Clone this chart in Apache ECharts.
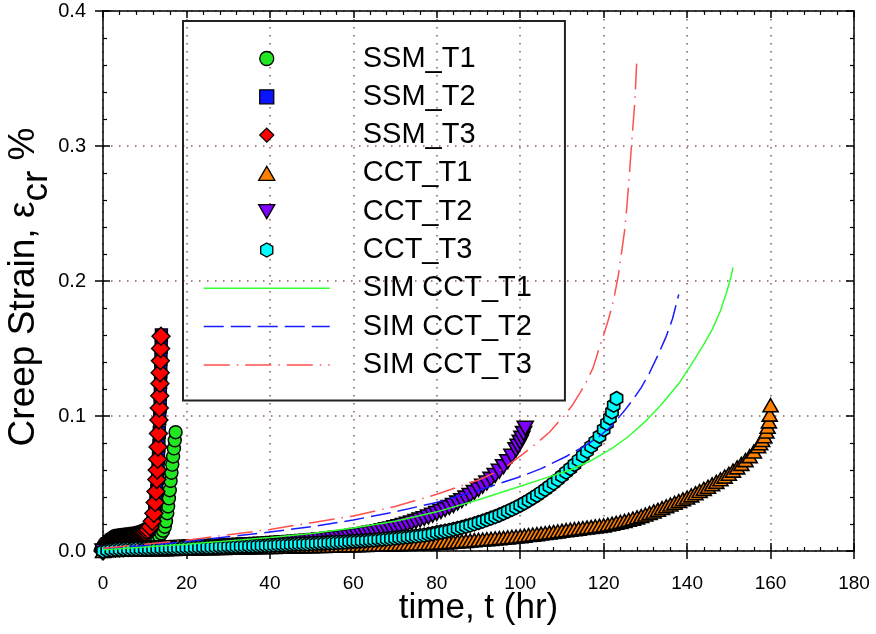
<!DOCTYPE html>
<html>
<head>
<meta charset="utf-8">
<script src="https://cdn.jsdelivr.net/npm/echarts@6/dist/echarts.min.js"></script>
<style>
html,body{margin:0;padding:0;background:#fff;}
#chart{width:876px;height:634px;}
</style>
</head>
<body>
<div id="chart"></div>
<script>
// ---------------- data (time in hr, creep strain in %) ----------------
const xTicks = [0, 20, 40, 60, 80, 100, 120, 140, 160, 180];
const yTicks = [0.0, 0.1, 0.2, 0.3, 0.4];

const ssmT1_t = [0, 0.25, 0.5, 1, 1.5, 2, 2.5, 3, 3.5, 4, 4.5, 5, 5.5, 6, 6.5, 7, 7.5, 8, 8.5, 9, 9.5, 10, 10.5, 11, 11.5, 12, 12.5, 13, 13.5, 14, 14.4, 14.8, 15.1, 15.4, 15.6, 15.8, 16.0, 16.2, 16.4, 16.6, 16.8, 17.0, 17.2, 17.4];
const ssmT1_s = [0.000, 0.0015, 0.0025, 0.003, 0.0035, 0.0035, 0.0038, 0.004, 0.004, 0.004, 0.0041, 0.0042, 0.0043, 0.0045, 0.0046, 0.0047, 0.0048, 0.005, 0.0051, 0.0052, 0.0053, 0.0055, 0.006, 0.0065, 0.007, 0.0075, 0.0085, 0.0095, 0.011, 0.013, 0.015, 0.018, 0.022, 0.028, 0.033, 0.039, 0.045, 0.052, 0.058, 0.064, 0.070, 0.076, 0.082, 0.088];

const ssmT2_t = [0, 0.25, 0.5, 0.75, 1, 1.5, 2, 2.5, 3, 3.5, 4, 4.5, 5, 5.5, 6, 6.5, 7, 7.5, 8, 8.5, 9, 9.5, 10, 10.5, 11, 11.5, 12, 12.4, 12.7, 12.9, 13.1, 13.2, 13.3, 13.4, 13.5, 13.6, 13.7, 13.75, 13.8, 13.85, 13.9, 13.95, 14.0];
const ssmT2_s = [0.000, 0.002, 0.0035, 0.0045, 0.0055, 0.007, 0.008, 0.0085, 0.009, 0.0093, 0.0095, 0.0097, 0.0099, 0.0101, 0.0103, 0.0105, 0.0107, 0.011, 0.0114, 0.0118, 0.0123, 0.013, 0.0137, 0.0147, 0.016, 0.019, 0.024, 0.030, 0.037, 0.045, 0.054, 0.061, 0.069, 0.078, 0.088, 0.098, 0.107, 0.116, 0.125, 0.133, 0.142, 0.151, 0.160];

const ssmT3_t = [0, 0.1, 0.2, 0.3, 0.4, 0.5, 0.6, 0.7, 0.8, 0.9, 1, 1.25, 1.5, 1.75, 2, 2.25, 2.5, 2.75, 3, 3.25, 3.5, 3.75, 4, 4.25, 4.5, 4.75, 5, 5.25, 5.5, 5.75, 6, 6.25, 6.5, 6.75, 7, 7.25, 7.5, 7.75, 8, 8.25, 8.5, 8.75, 9, 9.25, 9.5, 9.75, 10,
  10.4, 10.8, 11.3, 11.8, 12.2, 12.5, 12.7, 12.9, 13.0, 13.1, 13.2, 13.3, 13.4, 13.5, 13.6, 13.65, 13.7, 13.75, 13.8, 13.9];
const ssmT3_s = [0.000, 0.001, 0.0018, 0.0025, 0.0032, 0.004, 0.0045, 0.005, 0.0054, 0.0057, 0.006, 0.0068, 0.0075, 0.008, 0.0085, 0.0088, 0.009, 0.0092, 0.0093, 0.0095, 0.0096, 0.0097, 0.0098, 0.0099, 0.010, 0.0101, 0.0102, 0.0103, 0.0104, 0.0105, 0.0106, 0.0107, 0.0108, 0.0109, 0.011, 0.0111, 0.0113, 0.0115, 0.0117, 0.0119, 0.0122, 0.0125, 0.0128, 0.0131, 0.0135, 0.0138, 0.0142,
  0.015, 0.0158, 0.018, 0.022, 0.028, 0.036, 0.044, 0.053, 0.060, 0.068, 0.077, 0.087, 0.097, 0.106, 0.115, 0.124, 0.132, 0.141, 0.150, 0.159];

const cctT1_t = [0, 1, 2, 3, 4, 5, 6, 7, 8, 9, 10, 11, 12, 13, 14, 15, 16, 17, 18, 19, 20, 21, 22, 23, 24, 25, 26, 27, 28, 29, 30, 31, 32, 33, 34, 35, 36, 37, 38, 39,
  40, 41, 42, 43, 44, 45, 46, 47, 48, 49, 50, 51, 52, 53, 54, 55, 56, 57, 58, 59, 60, 61, 62, 63, 64, 65, 66, 67, 68, 69, 70, 71, 72, 73, 74, 75, 76, 77, 78, 79,
  80, 81, 82, 83, 84, 85, 86, 87, 88, 89, 90, 91, 92, 93, 94, 95, 96, 97, 98, 99, 100, 101, 102, 103, 104, 105, 106, 107, 108, 109, 110, 111, 112, 113, 114, 115, 116, 117, 118, 119,
  120, 121, 122, 123, 124, 125, 126, 127, 128, 129, 130, 131, 132, 133, 134, 135, 136, 137, 138, 139, 140, 141, 142, 143, 144, 145, 146, 147, 148, 149, 150, 151, 152, 153, 154, 155, 156, 157,
  157.5, 158, 158.5, 159, 159.3, 159.6, 159.8, 160];
const cctT1_s = [0.0000, 0.0005, 0.0007, 0.0008, 0.0009, 0.0009, 0.0010, 0.0010, 0.0011, 0.0011, 0.0012, 0.0012, 0.0013, 0.0013, 0.0014, 0.0014, 0.0015, 0.0016, 0.0017, 0.0017, 0.0018, 0.0018, 0.0019, 0.0019, 0.0020, 0.0020, 0.0021, 0.0022, 0.0023, 0.0023, 0.0024, 0.0024, 0.0025, 0.0025, 0.0026, 0.0027, 0.0028, 0.0028, 0.0029, 0.0029,
  0.0030, 0.0030, 0.0031, 0.0031, 0.0032, 0.0033, 0.0034, 0.0034, 0.0035, 0.0035, 0.0036, 0.0037, 0.0038, 0.0038, 0.0039, 0.0039, 0.0040, 0.0041, 0.0042, 0.0042, 0.0043, 0.0043, 0.0044, 0.0045, 0.0046, 0.0046, 0.0047, 0.0048, 0.0049, 0.0049, 0.0050, 0.0051, 0.0052, 0.0053, 0.0054, 0.0055, 0.0056, 0.0057, 0.0058, 0.0059,
  0.0060, 0.0062, 0.0064, 0.0066, 0.0068, 0.0070, 0.0073, 0.0075, 0.0078, 0.0080, 0.0083, 0.0085, 0.0088, 0.0090, 0.0093, 0.0095, 0.0098, 0.0101, 0.0104, 0.0107, 0.0110, 0.0114, 0.0118, 0.0121, 0.0125, 0.0129, 0.0133, 0.0137, 0.0141, 0.0145, 0.0150, 0.0154, 0.0158, 0.0162, 0.0166, 0.0170, 0.0174, 0.0178, 0.0182, 0.0186,
  0.0190, 0.0196, 0.0202, 0.0209, 0.0216, 0.0223, 0.0231, 0.0240, 0.0249, 0.0259, 0.0270, 0.0281, 0.0293, 0.0305, 0.0318, 0.0331, 0.0344, 0.0357, 0.0370, 0.0383, 0.0396, 0.0412, 0.0428, 0.0444, 0.0460, 0.0476, 0.0494, 0.0512, 0.0531, 0.0551, 0.0572, 0.0595, 0.0619, 0.0645, 0.0673, 0.0703, 0.0737, 0.0776,
  0.0798, 0.0822, 0.0850, 0.0885, 0.0920, 0.0960, 0.1010, 0.1080];

const cctT2_t = [0, 1, 2, 3, 4, 5, 6, 7, 8, 9, 10, 11, 12, 13, 14, 15, 16, 17, 18, 19, 20, 21, 22, 23, 24, 25, 26, 27, 28, 29, 30, 31, 32, 33, 34, 35, 36, 37, 38, 39,
  40, 41, 42, 43, 44, 45, 46, 47, 48, 49, 50, 51, 52, 53, 54, 55, 56, 57, 58, 59, 60, 61, 62, 63, 64, 65, 66, 67, 68, 69, 70, 71, 72, 73, 74, 75, 76, 77, 78, 79,
  80, 81, 82, 83, 84, 85, 86, 87, 88, 89, 90, 91, 92, 93, 94, 95, 96, 97, 98, 99, 99.5, 100, 100.4, 100.8, 101.2];
const cctT2_s = [0.0000, 0.0006, 0.0009, 0.0011, 0.0012, 0.0013, 0.0014, 0.0015, 0.0016, 0.0017, 0.0018, 0.0019, 0.0020, 0.0021, 0.0022, 0.0023, 0.0024, 0.0025, 0.0026, 0.0027, 0.0028, 0.0029, 0.0030, 0.0031, 0.0032, 0.0033, 0.0034, 0.0035, 0.0036, 0.0037, 0.0038, 0.0039, 0.0041, 0.0042, 0.0044, 0.0045, 0.0047, 0.0048, 0.0050, 0.0051,
  0.0053, 0.0055, 0.0057, 0.0059, 0.0061, 0.0063, 0.0065, 0.0067, 0.0070, 0.0072, 0.0075, 0.0078, 0.0081, 0.0084, 0.0087, 0.0090, 0.0094, 0.0097, 0.0101, 0.0105, 0.0110, 0.0115, 0.0120, 0.0125, 0.0131, 0.0137, 0.0143, 0.0150, 0.0157, 0.0164, 0.0172, 0.0180, 0.0189, 0.0198, 0.0208, 0.0218, 0.0229, 0.0240, 0.0252, 0.0265,
  0.0278, 0.0292, 0.0307, 0.0322, 0.0338, 0.0355, 0.0373, 0.0392, 0.0412, 0.0433, 0.0455, 0.0479, 0.0504, 0.0531, 0.0560, 0.0591, 0.0625, 0.0662, 0.0703, 0.0750, 0.0776, 0.0805, 0.0835, 0.0870, 0.0910];

const cctT3_t = [0, 1, 2, 3, 4, 5, 6, 7, 8, 9, 10, 11, 12, 13, 14, 15, 16, 17, 18, 19, 20, 21, 22, 23, 24, 25, 26, 27, 28, 29, 30, 31, 32, 33, 34, 35, 36, 37, 38, 39,
  40, 41, 42, 43, 44, 45, 46, 47, 48, 49, 50, 51, 52, 53, 54, 55, 56, 57, 58, 59, 60, 61, 62, 63, 64, 65, 66, 67, 68, 69, 70, 71, 72, 73, 74, 75, 76, 77, 78, 79,
  80, 81, 82, 83, 84, 85, 86, 87, 88, 89, 90, 91, 92, 93, 94, 95, 96, 97, 98, 99, 100, 101, 102, 103, 104, 105, 106, 107, 108, 109, 110, 111, 112, 113, 114, 115, 116, 117, 118, 119,
  120, 120.8, 121.5, 122, 122.4, 123.1];
const cctT3_s = [0.0000, 0.0006, 0.0009, 0.0011, 0.0012, 0.0013, 0.0014, 0.0015, 0.0016, 0.0016, 0.0017, 0.0018, 0.0019, 0.0019, 0.0020, 0.0021, 0.0022, 0.0022, 0.0023, 0.0024, 0.0025, 0.0025, 0.0026, 0.0027, 0.0028, 0.0028, 0.0029, 0.0030, 0.0031, 0.0032, 0.0033, 0.0033, 0.0034, 0.0035, 0.0036, 0.0037, 0.0038, 0.0039, 0.0040, 0.0041,
  0.0042, 0.0043, 0.0045, 0.0046, 0.0047, 0.0048, 0.0050, 0.0051, 0.0052, 0.0053, 0.0055, 0.0056, 0.0058, 0.0059, 0.0061, 0.0062, 0.0064, 0.0066, 0.0068, 0.0070, 0.0072, 0.0074, 0.0076, 0.0078, 0.0080, 0.0082, 0.0085, 0.0087, 0.0090, 0.0092, 0.0095, 0.0098, 0.0101, 0.0104, 0.0107, 0.0110, 0.0114, 0.0118, 0.0122, 0.0128,
  0.0135, 0.0141, 0.0147, 0.0153, 0.0160, 0.0167, 0.0175, 0.0183, 0.0192, 0.0201, 0.0211, 0.0221, 0.0232, 0.0243, 0.0255, 0.0267, 0.0280, 0.0294, 0.0308, 0.0323, 0.0339, 0.0356, 0.0374, 0.0393, 0.0413, 0.0434, 0.0456, 0.0479, 0.0503, 0.0529, 0.0556, 0.0584, 0.0611, 0.0641, 0.0673, 0.0706, 0.0740, 0.0775, 0.0810, 0.0850,
  0.0900, 0.0945, 0.0985, 0.1030, 0.1080, 0.1130];

const simT1_t = [0, 10, 20, 30, 40, 50, 60, 70, 80, 90, 100, 106, 112, 117, 122, 126, 130, 134, 138, 141, 144, 146, 148, 149.5, 150.5, 151];
const simT1_s = [0.001, 0.003, 0.005, 0.0075, 0.010, 0.013, 0.017, 0.022, 0.029, 0.038, 0.048, 0.054, 0.060, 0.067, 0.076, 0.085, 0.096, 0.109, 0.124, 0.138, 0.153, 0.164, 0.178, 0.192, 0.203, 0.210];

const simT2_t = [0, 10, 20, 30, 40, 50, 60, 70, 80, 90, 100, 105, 111, 115, 119, 122, 125, 127, 129, 131, 133, 135, 136.5, 138];
const simT2_s = [0.002, 0.004, 0.007, 0.0105, 0.014, 0.018, 0.023, 0.029, 0.036, 0.045, 0.055, 0.061, 0.070, 0.077, 0.085, 0.093, 0.104, 0.112, 0.121, 0.132, 0.145, 0.159, 0.172, 0.190];

const simT3_t = [0, 10, 20, 30, 40, 50, 60, 70, 80, 90, 96, 100.7, 104, 107, 110.3, 112.5, 114.3, 116, 117.5, 119, 120, 121, 122, 122.7, 123.5, 124.2, 125, 125.5, 126.1, 126.7, 127.1, 127.5, 127.9];
const simT3_s = [0.002, 0.005, 0.008, 0.012, 0.016, 0.021, 0.026, 0.033, 0.042, 0.0526, 0.061, 0.072, 0.080, 0.088, 0.0995, 0.108, 0.117, 0.126, 0.136, 0.151, 0.160, 0.170, 0.181, 0.191, 0.204, 0.219, 0.237, 0.253, 0.276, 0.302, 0.318, 0.334, 0.361];

// ---------------- build ----------------
const zip = (a, b) => a.map((v, i) => [v, b[i]]);
const SQUARE = 'path://M0,0L1,0L1,1L0,1Z';
const DIAMOND = 'path://M1,0L2,1L1,2L0,1Z';
const TRI_UP = 'path://M1,0L2,1.73L0,1.73Z';
const TRI_DOWN = 'path://M0,0L2,0L1,1.73Z';
const HEX = 'path://M0,-1L0.866,-0.5L0.866,0.5L0,1L-0.866,0.5L-0.866,-0.5Z';

const FONT = '"Liberation Sans", Arial, sans-serif';
const gridDot = { color: '#8c5a5a', width: 1.5, type: [1.5, 6.5] };
const blk = { color: '#000', width: 1.5 };

function scatter(name, t, s, symbol, size, color, bw) {
  return {
    type: 'scatter', name, data: zip(t, s), symbol, symbolSize: size, symbolKeepAspect: true,
    itemStyle: { color, borderColor: '#000', borderWidth: bw, opacity: 1 },
    emphasis: { disabled: true }, silent: true
  };
}
function line(name, t, s, color, type) {
  return {
    type: 'line', name, data: zip(t, s), showSymbol: false, symbol: 'none', smooth: false,
    lineStyle: { color, width: 1.5, type },
    itemStyle: { color, opacity: 0 },
    emphasis: { disabled: true }, silent: true, z: 5
  };
}

const XR = { min: xTicks[0], max: xTicks[xTicks.length - 1], interval: xTicks[1] - xTicks[0] };
const YR = { min: yTicks[0], max: yTicks[yTicks.length - 1], interval: yTicks[1] - yTicks[0] };

const option = {
  animation: false,
  backgroundColor: '#fff',
  grid: { left: 103, right: 22, top: 11, bottom: 83, containLabel: false, outerBoundsMode: 'none' },
  xAxis: [
    Object.assign({ type: 'value', position: 'bottom',
      axisLine: { onZero: false, lineStyle: blk },
      axisTick: { inside: true, length: 8, lineStyle: blk },
      minorTick: { show: true, splitNumber: 5, length: 4, lineStyle: { color: '#000', width: 1.2 } },
      axisLabel: { fontSize: 19, margin: 23, color: '#000', fontFamily: FONT },
      splitLine: { show: true, lineStyle: gridDot },
      name: 'time, t (hr)', nameLocation: 'middle', nameGap: 40, nameMoveOverlap: false,
      nameTextStyle: { fontSize: 35, color: '#000', fontFamily: FONT }
    }, XR),
    Object.assign({ type: 'value', position: 'bottom',
      axisLine: { show: false, onZero: false },
      axisTick: { inside: false, length: 8, lineStyle: blk },
      axisLabel: { show: false }, splitLine: { show: false }
    }, XR),
    Object.assign({ type: 'value', position: 'top',
      axisLine: { onZero: false, lineStyle: blk },
      axisTick: { inside: true, length: 7, lineStyle: blk },
      minorTick: { show: true, splitNumber: 5, length: 4, lineStyle: { color: '#000', width: 1.2 } },
      axisLabel: { show: false }, splitLine: { show: false }
    }, XR)
  ],
  yAxis: [
    Object.assign({ type: 'value', position: 'left',
      axisLine: { onZero: false, lineStyle: blk },
      axisTick: { inside: true, length: 7, lineStyle: blk },
      minorTick: { show: true, splitNumber: 5, length: 4, lineStyle: { color: '#000', width: 1.2 } },
      axisLabel: { fontSize: 20, margin: 17, color: '#000', fontFamily: FONT, formatter: v => v.toFixed(1) },
      splitLine: { show: true, lineStyle: gridDot },
      name: 'Creep Strain, ε{sub|cr} %', nameLocation: 'middle', nameGap: 48, nameRotate: 90, nameMoveOverlap: false,
      nameTextStyle: { fontSize: 37, color: '#000', fontFamily: FONT, padding: [0, 12, 0, 0],
        rich: { sub: { fontSize: 37, color: '#000', fontFamily: FONT, padding: [26, 0, 0, 0] } } }
    }, YR),
    Object.assign({ type: 'value', position: 'left',
      axisLine: { show: false, onZero: false },
      axisTick: { inside: false, length: 8, lineStyle: blk },
      axisLabel: { show: false }, splitLine: { show: false }
    }, YR),
    Object.assign({ type: 'value', position: 'right',
      axisLine: { onZero: false, lineStyle: blk },
      axisTick: { inside: true, length: 8, lineStyle: blk },
      minorTick: { show: true, splitNumber: 5, length: 4, lineStyle: { color: '#000', width: 1.2 } },
      axisLabel: { show: false }, splitLine: { show: false }
    }, YR)
  ],
  legend: {
    orient: 'vertical', left: 183, top: 21, align: 'left',
    padding: [23, 33, 21, 20],
    itemWidth: 126, itemHeight: 14, itemGap: 9.3,
    borderColor: '#222', borderWidth: 2, backgroundColor: 'transparent',
    selectedMode: false,
    itemStyle: { borderWidth: 1.3, borderColor: '#000' },
    lineStyle: { width: 1.5 },
    textStyle: { fontSize: 29, color: '#000', fontFamily: FONT, padding: [0, 0, 0, 28] },
    data: ['SSM_T1', 'SSM_T2', 'SSM_T3', 'CCT_T1', 'CCT_T2', 'CCT_T3', 'SIM CCT_T1', 'SIM CCT_T2', 'SIM CCT_T3']
  },
  series: [
    scatter('SSM_T1', ssmT1_t, ssmT1_s, 'circle', 13, '#22e622', 1.4),
    scatter('SSM_T2', ssmT2_t, ssmT2_s, SQUARE, 12, '#0a14ff', 1.4),
    scatter('SSM_T3', ssmT3_t, ssmT3_s, DIAMOND, 18, '#ff0000', 1.4),
    scatter('CCT_T1', cctT1_t, cctT1_s, TRI_UP, 15, '#ff8000', 1.6),
    scatter('CCT_T2', cctT2_t, cctT2_s, TRI_DOWN, 16, '#8000ff', 1.6),
    scatter('CCT_T3', cctT3_t, cctT3_s, HEX, 14, '#00ffff', 1.6),
    line('SIM CCT_T1', simT1_t, simT1_s, '#33ff33', 'solid'),
    line('SIM CCT_T2', simT2_t, simT2_s, '#1a1aff', [20, 7]),
    line('SIM CCT_T3', simT3_t, simT3_s, '#ff5050', [26, 7, 1.5, 7])
  ]
};

const chart = echarts.init(document.getElementById('chart'), null, { renderer: 'canvas' });
chart.setOption(option);
</script>
</body>
</html>
